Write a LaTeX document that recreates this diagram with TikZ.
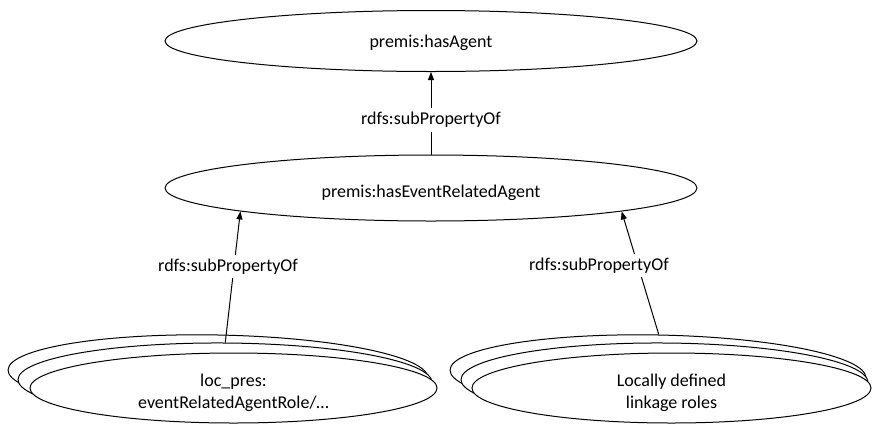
\documentclass[tikz,border=0pt]{standalone}
\usepackage{fontspec}
\setmainfont{Carlito}
\usetikzlibrary{shapes.geometric,arrows.meta}

\tikzset{
  prop/.style={draw, ellipse, fill=white, line width=1pt, inner sep=0pt,
    align=center, font=\fontsize{18}{22}\selectfont},
  role/.style={prop, minimum height=70pt, text height=44pt},
  rel/.style={fill=white, inner sep=4pt, font=\fontsize{18}{22}\selectfont},
  sub/.style={-{Triangle[length=8pt,width=6pt]}, line width=1pt},
}

\begin{document}
\begin{tikzpicture}[x=1pt, y=-1pt]
  \useasboundingbox (0,0) rectangle (873,424);
  % upper properties
  \node[prop, minimum width=532pt, minimum height=61pt, text height=17pt] (agent) at (431,41) {premis:hasAgent};
  \node[prop, minimum width=532pt, minimum height=66pt, text height=22pt] (evagent) at (431,188) {premis:hasEventRelatedAgent};
  % stacked roles, left
  \node[prop, minimum width=420pt, minimum height=78pt, rotate=-1.1] (roleA1) at (218,374) {};
  \node[prop, minimum width=414pt, minimum height=76pt, rotate=-0.4] (roleA2) at (225,381) {};
  \node[role, minimum width=407pt] (roleA3) at (233.5,388) {loc\_pres:\\eventRelatedAgentRole/\dots};
  % stacked roles, right
  \node[prop, minimum width=416pt, minimum height=78pt, rotate=-1.1] (roleB1) at (658,374) {};
  \node[prop, minimum width=407pt, minimum height=76pt, rotate=-0.4] (roleB2) at (664.5,381) {};
  \node[role, minimum width=399pt] (roleB3) at (671.5,388) {Locally defined\\linkage roles};

  \draw[sub] (evagent.north) to node [rel, pos=0.42] (relTop) {rdfs:subPropertyOf} (agent.south);
  \draw[sub] (roleA2.north) to node [rel, pos=0.58, xshift=-6pt] (relLeft) {rdfs:subPropertyOf} (evagent.187);
  \draw[sub] (roleB1.north) to node [rel, pos=0.56, xshift=-39pt] (relRight) {rdfs:subPropertyOf} (evagent.353);
\end{tikzpicture}
\end{document}
